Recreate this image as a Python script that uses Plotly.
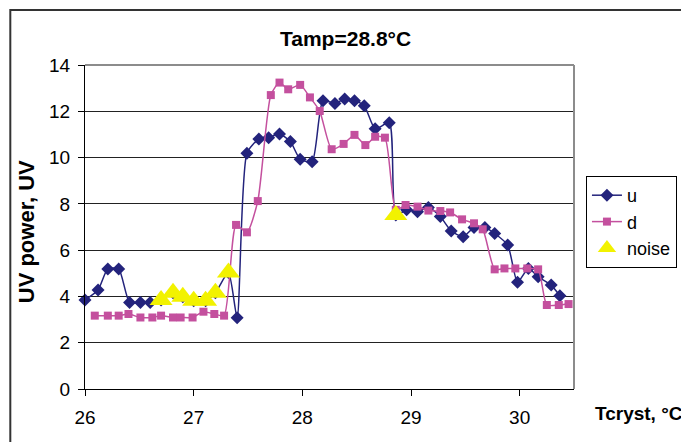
import plotly.graph_objects as go

# ---- data ----
u_x = [26.00, 26.12, 26.21, 26.31, 26.41, 26.51, 26.60, 26.70, 26.81, 26.90, 27.00, 27.11,
       27.20, 27.32, 27.40, 27.49, 27.60, 27.69, 27.79, 27.89, 27.98, 28.09, 28.19, 28.30,
       28.39, 28.48, 28.57, 28.67, 28.80, 28.86, 28.96, 29.06, 29.16, 29.27, 29.37, 29.48,
       29.58, 29.68, 29.77, 29.89, 29.98, 30.08, 30.17, 30.29, 30.37]
u_y = [3.85, 4.28, 5.19, 5.19, 3.74, 3.74, 3.74, 3.85, 4.16, 3.99, 3.81, 3.81,
       4.16, 5.03, 3.08, 10.19, 10.80, 10.86, 11.02, 10.69, 9.93, 9.82, 12.46, 12.34,
       12.53, 12.46, 12.24, 11.24, 11.51, 7.52, 7.74, 7.66, 7.84, 7.45, 6.83, 6.58,
       6.98, 6.98, 6.72, 6.22, 4.61, 5.21, 4.85, 4.49, 4.03]

d_x = [26.09, 26.21, 26.31, 26.40, 26.51, 26.62, 26.70, 26.81, 26.88, 26.99, 27.09, 27.19,
       27.28, 27.39, 27.49, 27.59, 27.71, 27.79, 27.87, 27.98, 28.07, 28.16, 28.27, 28.38,
       28.48, 28.58, 28.67, 28.76, 28.86, 28.95, 29.06, 29.16, 29.27, 29.36, 29.47, 29.58,
       29.66, 29.77, 29.86, 29.96, 30.07, 30.17, 30.25, 30.36, 30.45]
d_y = [3.17, 3.17, 3.17, 3.24, 3.09, 3.09, 3.17, 3.09, 3.09, 3.09, 3.34, 3.24,
       3.17, 7.09, 6.77, 8.12, 12.70, 13.24, 12.95, 13.14, 12.60, 12.01, 10.36, 10.59,
       10.98, 10.54, 10.90, 10.86, 7.74, 7.95, 7.88, 7.71, 7.69, 7.63, 7.33, 7.16,
       6.90, 5.17, 5.21, 5.21, 5.21, 5.17, 3.63, 3.63, 3.67]

noise_x = [26.70, 26.81, 26.90, 27.00, 27.11, 27.20, 27.32, 28.86]
noise_y = [3.85, 4.16, 3.99, 3.81, 3.81, 4.16, 5.03, 7.52]

x_ticks = [26, 27, 28, 29, 30]
y_ticks = [0, 2, 4, 6, 8, 10, 12, 14]

title_text = "Tamp=28.8°C"
x_title = "Tcryst, °C"
y_title = "UV power, UV"

FONT = "Liberation Sans, Arial, sans-serif"
BLUE = "#23237C"
PINK = "#C4509E"
YELLOW = "#F2F200"

fig = go.Figure()
fig.add_trace(go.Scatter(
    x=u_x, y=u_y, name="u", mode="lines+markers",
    line=dict(color=BLUE, width=1.5, shape="spline", smoothing=0.6),
    marker=dict(symbol="diamond", size=10, color=BLUE),
    cliponaxis=False))
fig.add_trace(go.Scatter(
    x=d_x, y=d_y, name="d", mode="lines+markers",
    line=dict(color=PINK, width=1.5, shape="spline", smoothing=0.6),
    marker=dict(symbol="square", size=8, color=PINK),
    cliponaxis=False))
fig.add_trace(go.Scatter(
    x=noise_x, y=noise_y, name="noise", mode="markers",
    marker=dict(symbol="triangle-up", size=20, color=YELLOW),
    cliponaxis=False))

# page body adds an 8px offset; plot area target in window px: 85..576 x 65..389
OFF = 8
PL, PR, PT, PB = 85, 576, 65, 389
W, H = 689 - OFF, 442 - OFF
pw, ph = PR - PL, PB - PT
L, T = PL - OFF, PT - OFF
R, B = W - L - pw, H - T - ph


def px2paper(px, py):
    return (px - PL) / pw, (PB - py) / ph


fig.update_layout(
    width=W, height=H,
    margin=dict(l=L, r=R, t=T, b=B, pad=0),
    paper_bgcolor="white", plot_bgcolor="white",
    font=dict(family=FONT, size=19, color="black"),
    xaxis=dict(range=[26, 30.5], tickvals=x_ticks, ticktext=[str(v) for v in x_ticks],
               ticks="outside", ticklen=6, tickcolor="black", tickwidth=1,
               showline=True, linecolor="black", linewidth=1,
               showgrid=False, zeroline=False, ticklabelstandoff=5,
               tickfont=dict(size=19, family=FONT)),
    yaxis=dict(range=[0, 14], tickvals=y_ticks, ticktext=[str(v) for v in y_ticks],
               ticks="outside", ticklen=6, tickcolor="black", tickwidth=1,
               showline=True, linecolor="black", linewidth=1,
               showgrid=True, gridcolor="#222222", gridwidth=1,
               zeroline=False, ticklabelstandoff=4,
               tickfont=dict(size=19, family=FONT)),
    legend=dict(x=px2paper(588, 176)[0], y=px2paper(588, 176)[1],
                xanchor="left", yanchor="top",
                bordercolor="black", borderwidth=1, bgcolor="white",
                font=dict(size=18, family=FONT), tracegroupgap=0),
)

tx, ty = px2paper(347, 38.5)
fig.add_annotation(text="<b>" + title_text + "</b>", x=tx, y=ty, xref="paper", yref="paper",
                   xanchor="center", yanchor="middle", showarrow=False,
                   font=dict(size=21, family=FONT, color="black"))

xx, xy = px2paper(595, 414)
fig.add_annotation(text="<b>" + x_title + "</b>", x=xx, y=xy, xref="paper", yref="paper",
                   xanchor="left", yanchor="middle", showarrow=False,
                   font=dict(size=19, family=FONT, color="black"))

yx, yy = px2paper(26, 232)
fig.add_annotation(text="<b>" + y_title + "</b>", x=yx, y=yy, xref="paper", yref="paper",
                   xanchor="center", yanchor="middle", showarrow=False, textangle=-90,
                   font=dict(size=22, family=FONT, color="black"))

# plot-area border (top and right, gray)
fig.add_shape(type="line", xref="paper", yref="paper", x0=0, x1=1, y0=1, y1=1,
              line=dict(color="#8C8C8C", width=2), layer="above")
fig.add_shape(type="line", xref="paper", yref="paper", x0=1, x1=1, y0=0, y1=1,
              line=dict(color="#8C8C8C", width=2), layer="above")

# outer chart border (cut off by the right and bottom of the image)
ox0, oy1 = px2paper(10, 10)
ox1, oy0 = px2paper(720, 470)
fig.add_shape(type="rect", xref="paper", yref="paper", x0=ox0, x1=ox1, y0=oy0, y1=oy1,
              line=dict(color="#333333", width=2), layer="below")

fig.write_html("out.html")
